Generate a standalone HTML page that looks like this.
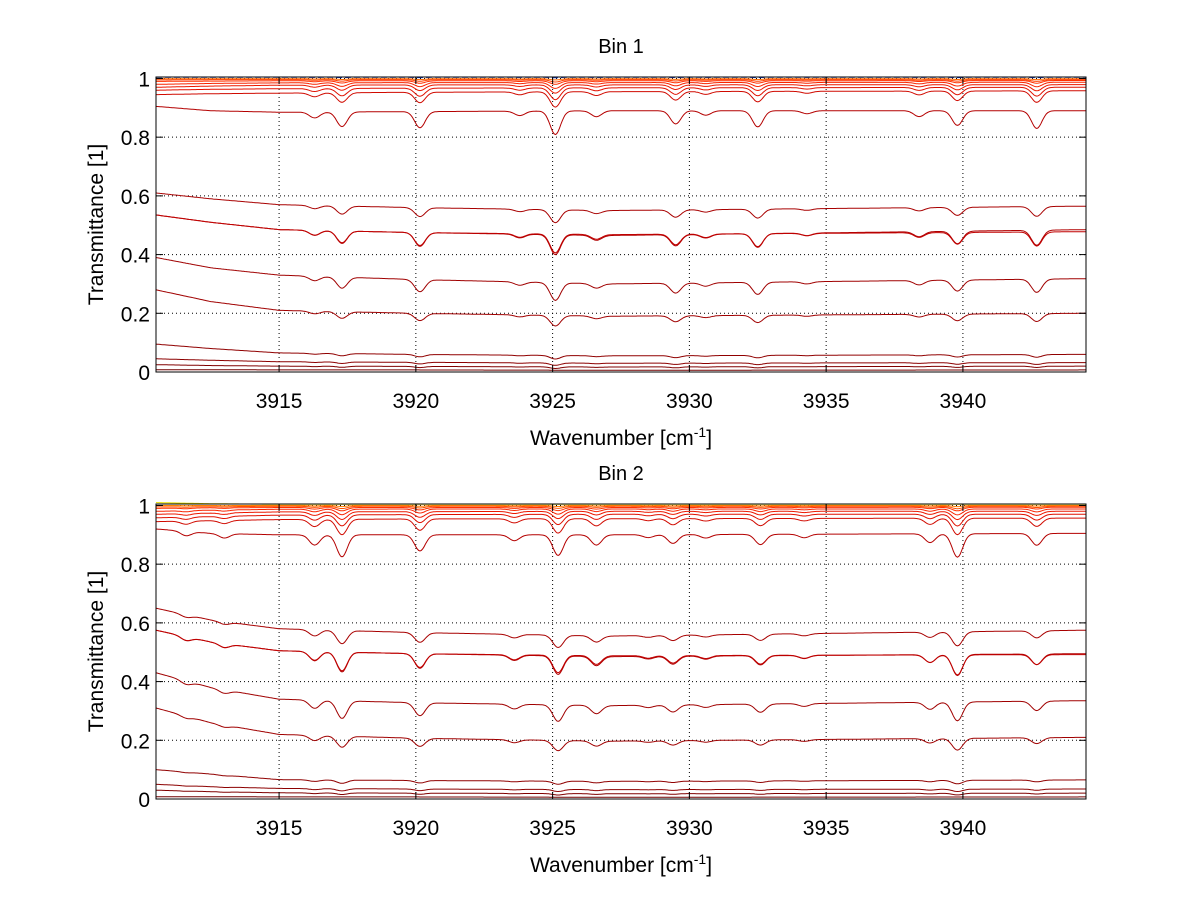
<!DOCTYPE html>
<html><head><meta charset="utf-8">
<style>
body{margin:0;background:#fff;}
svg text{font-family:"Liberation Sans",sans-serif;fill:#000;}
</style></head>
<body>
<svg id="chart" width="1200" height="901" viewBox="0 0 1200 901" xmlns="http://www.w3.org/2000/svg">
<rect x="0" y="0" width="1200" height="901" fill="#fff"/>
</svg>
<script>
const xTicks = [3915, 3920, 3925, 3930, 3935, 3940];
const yTicks = [0, 0.2, 0.4, 0.6, 0.8, 1];
const yTickLabels = ["0", "0.2", "0.4", "0.6", "0.8", "1"];
const xLimits = [3910.5, 3944.5];
const yLimits = [0, 1.005];
const knotX = [3910.5, 3912.5, 3915, 3920, 3927, 3944.5];

const bin1LinePos = [3916.3, 3917.3, 3920.15, 3923.8, 3925.1, 3926.6, 3929.5, 3930.6, 3932.5, 3934.3, 3938.4, 3939.8, 3942.7];
const bin1LineStr = [0.02, 0.05, 0.055, 0.015, 0.08, 0.02, 0.045, 0.015, 0.055, 0.01, 0.02, 0.05, 0.06];
const bin1Base = [
 [1.004,1.004,1.004,1.004,1.004,1.004],[0.999,0.999,0.999,0.999,0.999,0.999],[0.995,0.996,0.996,0.996,0.996,0.996],[0.99,0.991,0.992,0.992,0.992,0.993],
 [0.98,0.983,0.985,0.986,0.986,0.987],[0.97,0.974,0.977,0.978,0.978,0.979],[0.96,0.963,0.965,0.967,0.968,0.97],[0.945,0.948,0.95,0.953,0.955,0.958],
 [0.905,0.89,0.885,0.887,0.89,0.89],
 [0.61,0.59,0.57,0.56,0.55,0.565],[0.535,0.51,0.485,0.475,0.465,0.485],[0.535,0.51,0.485,0.475,0.468,0.478],
 [0.39,0.355,0.33,0.315,0.3,0.318],[0.28,0.24,0.21,0.2,0.19,0.2],
 [0.095,0.08,0.065,0.06,0.055,0.06],[0.045,0.04,0.035,0.033,0.03,0.032],[0.025,0.022,0.02,0.019,0.017,0.02],[0.008,0.008,0.007,0.007,0.006,0.007]
];
const bin1Scale = [0.02,0.05,0.1,0.15,0.25,0.35,0.5,0.65,1.0,0.55,0.85,0.8,0.75,0.45,0.15,0.1,0.07,0.0];
const bin1Color = ["#1a3fc8","#ff6a00","#ff4000","#ff3000","#f82400","#ec1800","#e01000","#d00a00","#b40000","#a80000","#b00000","#c00000","#a00000","#a00000","#900000","#8c0000","#800000","#700000"];

const bin2LinePos = [3911.6, 3913.0, 3916.3, 3917.3, 3920.15, 3923.6, 3925.2, 3926.6, 3928.5, 3929.4, 3930.6, 3932.6, 3934.2, 3938.8, 3939.8, 3942.7];
const bin2LineStr = [0.015, 0.015, 0.035, 0.075, 0.055, 0.02, 0.07, 0.035, 0.01, 0.03, 0.012, 0.035, 0.012, 0.03, 0.08, 0.04];
const bin2Base = [
 [1.01,1.006,1.004,1.004,1.004,1.004],[1.0,1.0,1.0,1.0,1.0,1.0],[0.995,0.996,0.997,0.997,0.997,0.997],[0.99,0.992,0.993,0.993,0.993,0.994],
 [0.98,0.984,0.987,0.988,0.988,0.988],[0.97,0.974,0.978,0.979,0.98,0.98],[0.958,0.962,0.967,0.969,0.97,0.97],[0.945,0.948,0.952,0.954,0.955,0.957],
 [0.92,0.905,0.9,0.9,0.9,0.905],
 [0.65,0.61,0.58,0.567,0.555,0.575],[0.575,0.535,0.505,0.495,0.485,0.495],[0.575,0.535,0.505,0.495,0.488,0.492],
 [0.43,0.38,0.34,0.328,0.318,0.335],[0.31,0.26,0.22,0.207,0.197,0.21],
 [0.1,0.085,0.066,0.063,0.06,0.065],[0.05,0.042,0.036,0.034,0.032,0.034],[0.03,0.025,0.021,0.02,0.018,0.02],[0.008,0.008,0.007,0.007,0.006,0.007]
];
const bin2Scale = [0.0,0.05,0.1,0.15,0.25,0.35,0.5,0.7,1.0,0.6,0.9,0.85,0.8,0.5,0.15,0.1,0.07,0.0];
const bin2Color = ["#e8e000","#ff8000","#ff5000","#ff3000","#f82400","#ec1800","#e01000","#d00a00","#b40000","#a80000","#b00000","#c00000","#a00000","#a00000","#900000","#8c0000","#800000","#700000"];

const NS = "http://www.w3.org/2000/svg";
const svg = document.getElementById("chart");
function mk(tag, attrs, parent){const e=document.createElementNS(NS,tag);for(const k in attrs)e.setAttribute(k,attrs[k]);(parent||svg).appendChild(e);return e;}

function interpBase(b, x){
  for(let i=0;i<knotX.length-1;i++){
    if(x<=knotX[i+1]){const t=(x-knotX[i])/(knotX[i+1]-knotX[i]);return b[i]+(b[i+1]-b[i])*t;}
  }
  return b[b.length-1];
}

function drawPanel(box, title, name, base, scale, colors, linePos, lineStr){
  const g = mk("g",{});
  
  
  const xs = v => box.x0 + (v - xLimits[0])/(xLimits[1]-xLimits[0])*(box.x1-box.x0);
  const ys = v => box.y1 - (v - yLimits[0])/(yLimits[1]-yLimits[0])*(box.y1-box.y0);
  xTicks.forEach(t=>{
    const l = mk("line",{x1:xs(t),x2:xs(t),y1:box.y0,y2:box.y1,stroke:"#000","stroke-width":1,"stroke-dasharray":"1,3"},g);
    
    
  });
  yTicks.forEach(t=>{
    const l = mk("line",{x1:box.x0,x2:box.x1,y1:ys(t),y2:ys(t),stroke:"#000","stroke-width":1,"stroke-dasharray":"1,3"},g);
    
    
  });
  base.forEach((b,ci)=>{
    let d="";
    for(let x=xLimits[0]; x<=xLimits[1]+1e-9; x+=0.05){
      let v = interpBase(b,x);
      let dip = 0;
      linePos.forEach((p,li)=>{const w=0.27; const dx=(x-p)/w; dip += lineStr[li]*scale[ci]*Math.exp(-dx*dx);});
      v -= dip;
      d += (d?"L":"M")+xs(x).toFixed(1)+","+ys(v).toFixed(1);
    }
    const p = mk("path",{d:d,fill:"none",stroke:colors[ci],"stroke-width":1},g);
    if(ci===0 && colors[ci]==="#1a3fc8") p.setAttribute("stroke-dasharray","6,3");
    
    
  });
  const r = mk("rect",{x:box.x0,y:box.y0,width:box.x1-box.x0,height:box.y1-box.y0,fill:"none",stroke:"#000","stroke-width":1},g);
  
  
  xTicks.forEach(t=>{
    mk("line",{x1:xs(t),x2:xs(t),y1:box.y1,y2:box.y1-7,stroke:"#000"},g);
    mk("line",{x1:xs(t),x2:xs(t),y1:box.y0,y2:box.y0+7,stroke:"#000"},g);
    const tx = mk("text",{x:xs(t),y:box.y1+36,"text-anchor":"middle","font-size":21},g);
    tx.textContent = String(t);
    
    
  });
  yTicks.forEach((t,i)=>{
    mk("line",{x1:box.x0,x2:box.x0+7,y1:ys(t),y2:ys(t),stroke:"#000"},g);
    mk("line",{x1:box.x1,x2:box.x1-7,y1:ys(t),y2:ys(t),stroke:"#000"},g);
    const tx = mk("text",{x:box.x0-6,y:ys(t)+8,"text-anchor":"end","font-size":21},g);
    tx.textContent = yTickLabels[i];
    
    
  });
  const tt = mk("text",{x:(box.x0+box.x1)/2,y:box.y0-24,"text-anchor":"middle","font-size":20},g);
  tt.textContent = title;
  
  
  const xl = mk("text",{x:(box.x0+box.x1)/2,y:box.y1+73,"text-anchor":"middle","font-size":21},g);
  xl.innerHTML = 'Wavenumber [cm<tspan dy="-8" font-size="14">-1</tspan><tspan dy="8">]</tspan>';
  
  
  const cy=(box.y0+box.y1)/2;
  const yl = mk("text",{x:103,y:cy,"text-anchor":"middle","font-size":21,transform:"rotate(-90 103 "+cy+")"},g);
  yl.textContent = "Transmittance [1]";
  
  
}

drawPanel({x0:156,x1:1086,y0:77,y1:372},"Bin 1","bin-1-panel",bin1Base,bin1Scale,bin1Color,bin1LinePos,bin1LineStr);
drawPanel({x0:156,x1:1086,y0:504,y1:799},"Bin 2","bin-2-panel",bin2Base,bin2Scale,bin2Color,bin2LinePos,bin2LineStr);
</script>
</body></html>
